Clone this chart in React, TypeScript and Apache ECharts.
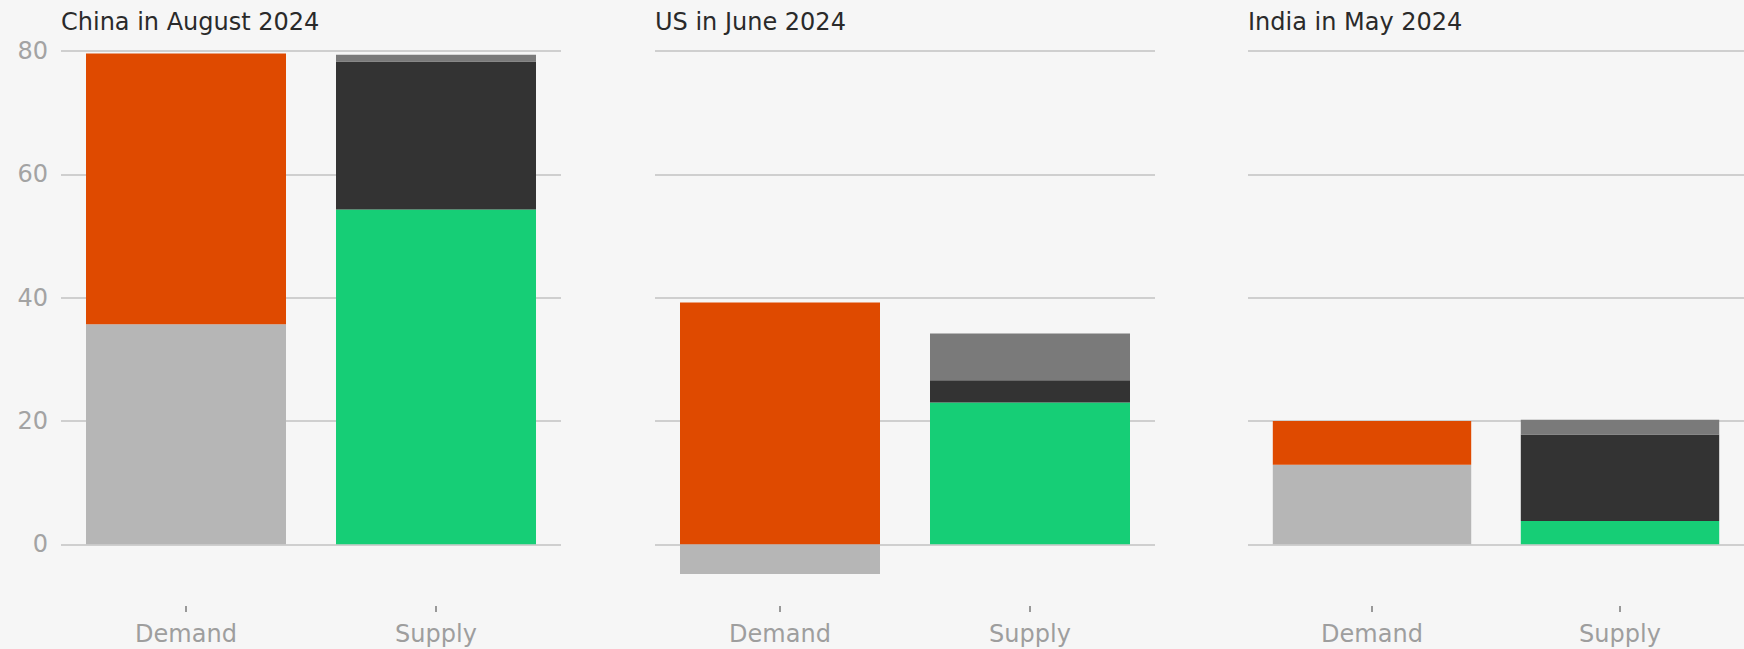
import React, { useEffect, useRef } from "react";
import * as echarts from "echarts";

const categories = ["Demand", "Supply"];
const panelTitles = ["China in August 2024", "US in June 2024", "India in May 2024"];
const demandBase = [35.7, -4.8, 12.9];
const demandOrange = [43.9, 39.2, 7.1];
const supplyGreen = [54.3, 23.0, 3.8];
const supplyDark = [24.0, 3.6, 14.0];
const supplyGray = [1.1, 7.6, 2.4];
const yMin = -10;
const yMax = 80;
const yStep = 10;
const labelStep = 20;

const gridLefts = [61, 655, 1248];
const FONT = "'DejaVu Sans', sans-serif";

export default function App() {
  const ref = useRef<HTMLDivElement>(null);
  useEffect(() => {
    const chart = echarts.init(ref.current!, null, { renderer: "svg" });
    const grids: any[] = [];
    const xAxes: any[] = [];
    const yAxes: any[] = [];
    const titles: any[] = [];
    const series: any[] = [];
    panelTitles.forEach((t, i) => {
      titles.push({
        text: t,
        left: gridLefts[i],
        top: 10,
        padding: 0,
        textStyle: { fontFamily: FONT, fontSize: 24, fontWeight: "normal", color: "#2a2a2a" },
      });
      grids.push({ left: gridLefts[i], top: 51, width: 500, height: 555, containLabel: false });
      xAxes.push({
        type: "category",
        gridIndex: i,
        position: "bottom",
        data: categories,
        axisLine: { show: false, onZero: false },
        axisTick: { show: true, alignWithLabel: true, length: 6, lineStyle: { color: "#999999", width: 2 } },
        axisLabel: { fontFamily: FONT, fontSize: 24, color: "#9e9e9e", margin: 16 },
        splitLine: { show: false },
      });
      yAxes.push({
        type: "value",
        gridIndex: i,
        min: yMin,
        max: yMax,
        interval: yStep,
        axisLine: { show: false },
        axisTick: { show: false },
        axisLabel: {
          show: i === 0,
          fontFamily: FONT,
          fontSize: 24,
          color: "#a3a3a3",
          margin: 13,
          formatter: (v: number) => (v >= 0 && v % labelStep === 0 ? String(v) : ""),
        },
        splitLine: {
          show: true,
          lineStyle: { color: ["rgba(0,0,0,0)", "#cfcfcf"], width: 2 },
        },
      });
      const mk = (name: string, color: string, data: any[]) => ({
        name,
        type: "bar",
        xAxisIndex: i,
        yAxisIndex: i,
        stack: "s" + i,
        barCategoryGap: "20%",
        itemStyle: { color },
        data,
      });
      series.push(mk("Demand base", "#b6b6b6", [demandBase[i], "-"]));
      series.push(mk("Demand growth", "#df4a00", [demandOrange[i], "-"]));
      series.push(mk("Supply green", "#16ce76", ["-", supplyGreen[i]]));
      series.push(mk("Supply dark", "#333333", ["-", supplyDark[i]]));
      series.push(mk("Supply other", "#7a7a7a", ["-", supplyGray[i]]));
    });
    chart.setOption({
      animation: false,
      backgroundColor: "#f6f6f6",
      title: titles,
      grid: grids,
      xAxis: xAxes,
      yAxis: yAxes,
      series,
    });
    return () => chart.dispose();
  }, []);
  return (
    <div
      ref={ref}
      style={{ position: "fixed", left: 0, top: 0, width: 1744, height: 649, background: "#f6f6f6" }}
    />
  );
}
